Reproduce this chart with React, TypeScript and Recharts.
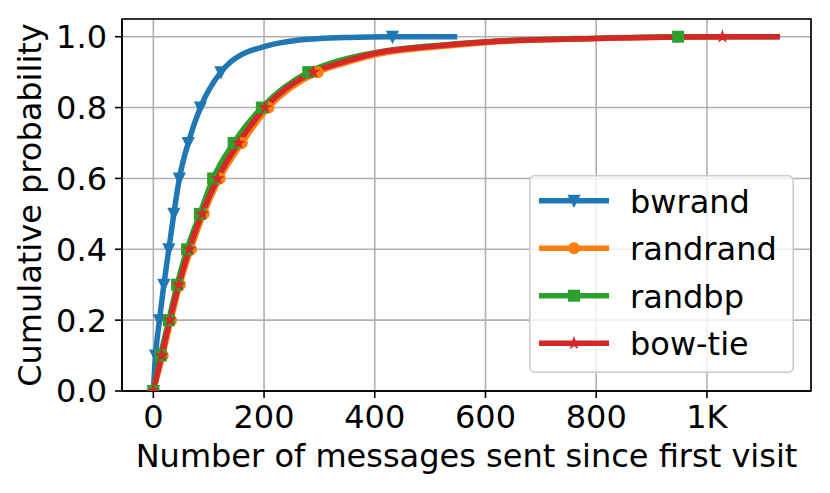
import React from 'react';
import {
  LineChart, Line, XAxis, YAxis, CartesianGrid, Legend, Label, ReferenceArea,
} from 'recharts';

// ---- data ----
const seriesNames = ['bwrand', 'randrand', 'randbp', 'bow-tie'];
const seriesColors = ['#1f77b4', '#ff7f0e', '#2ca02c', '#d62728'];
const seriesMarkers = ['triDown', 'circle', 'square', 'star'];

const bwrandX = [0, 4, 11, 19, 28, 37, 47, 63, 85, 122, 139, 160, 200, 260, 350, 432, 549];
const bwrandY = [0, 0.1, 0.2, 0.3, 0.4, 0.5, 0.6, 0.7, 0.8, 0.9, 0.928, 0.95, 0.972, 0.99, 0.998, 1.0, 1.0];
const bwrandMarks = [0, 1, 2, 3, 4, 5, 6, 7, 8, 9, 15];

const randrandX = [0, 17, 32, 48, 68, 91, 120, 160, 208, 297, 345, 415, 505, 605, 805, 1000, 1050];
const randrandY = [0, 0.1, 0.2, 0.3, 0.4, 0.5, 0.6, 0.7, 0.8, 0.9, 0.925, 0.953, 0.97, 0.984, 0.995, 1.0, 1.0];
const randrandMarks = [0, 1, 2, 3, 4, 5, 6, 7, 8, 9];

const randbpX = [0, 13, 28, 43, 61, 84, 108, 145, 196, 280, 330, 410, 500, 600, 800, 948, 1131];
const randbpY = [0, 0.1, 0.2, 0.3, 0.4, 0.5, 0.6, 0.7, 0.8, 0.9, 0.93, 0.958, 0.974, 0.986, 0.996, 1.0, 1.0];
const randbpMarks = [0, 1, 2, 3, 4, 5, 6, 7, 8, 9, 15];

const bowtieX = [0, 15, 30, 46, 65, 88, 116, 154, 202, 289, 340, 410, 500, 600, 800, 1028, 1132];
const bowtieY = [0, 0.1, 0.2, 0.3, 0.4, 0.5, 0.6, 0.7, 0.8, 0.9, 0.927, 0.956, 0.972, 0.985, 0.995, 1.0, 1.0];
const bowtieMarks = [0, 1, 2, 3, 4, 5, 6, 7, 8, 9, 15];

const xTicks = [0, 200, 400, 600, 800, 1000];
const xTickLabels = ['0', '200', '400', '600', '800', '1K'];
const yTicks = [0, 0.2, 0.4, 0.6, 0.8, 1.0];
const xDomain = [-56.6, 1188];
const yDomain = [0, 1.05];

const xLabel = 'Number of messages sent since first visit';
const yLabel = 'Cumulative probability';

const toData = (xs: number[], ys: number[]) => xs.map((x, i) => ({ x, y: ys[i] }));
const seriesData = [
  toData(bwrandX, bwrandY),
  toData(randrandX, randrandY),
  toData(randbpX, randbpY),
  toData(bowtieX, bowtieY),
];
const seriesMarks = [bwrandMarks, randrandMarks, randbpMarks, bowtieMarks];

const FONT = '"DejaVu Sans", sans-serif';
const FS = 32;

function Marker({ kind, cx, cy, color }: { kind: string; cx: number; cy: number; color: string }) {
  const s = 5;
  if (kind === 'triDown') {
    return (
      <polygon
        points={`${cx - s},${cy - s} ${cx + s},${cy - s} ${cx},${cy + s}`}
        fill={color} stroke={color} strokeWidth={2} strokeLinejoin="miter"
      />
    );
  }
  if (kind === 'circle') {
    return <circle cx={cx} cy={cy} r={s} fill={color} stroke={color} strokeWidth={2} />;
  }
  if (kind === 'square') {
    return <rect x={cx - s} y={cy - s} width={2 * s} height={2 * s} fill={color} stroke={color} strokeWidth={2} />;
  }
  // star
  const pts: string[] = [];
  const ro = 5, ri = 5 * 0.381966;
  for (let k = 0; k < 10; k++) {
    const r = k % 2 === 0 ? ro : ri;
    const a = -Math.PI / 2 + (k * Math.PI) / 5;
    pts.push(`${cx + r * Math.cos(a)},${cy + r * Math.sin(a)}`);
  }
  return <polygon points={pts.join(' ')} fill={color} stroke={color} strokeWidth={1.5} strokeLinejoin="miter" />;
}

const makeDot = (si: number) => (props: any) => {
  const { cx, cy, index } = props;
  const key = `dot-${si}-${index}`;
  if (!seriesMarks[si].includes(index) || cx == null || cy == null) return <g key={key} />;
  return (
    <g key={key}>
      <Marker kind={seriesMarkers[si]} cx={cx} cy={cy} color={seriesColors[si]} />
    </g>
  );
};

function LegendBox() {
  const rowY = [25.7, 73.2, 120.7, 168.2];
  return (
    <svg width={265} height={198} style={{ display: 'block' }}>
      <rect x={0.8} y={0.8} width={263.4} height={196.4} rx={5} ry={5}
        fill="rgba(255,255,255,0.8)" stroke="#cccccc" strokeWidth={1.6} />
      {seriesNames.map((name, i) => (
        <g key={name}>
          <line x1={10} x2={80} y1={rowY[i]} y2={rowY[i]} stroke={seriesColors[i]} strokeWidth={5.5} />
          <Marker kind={seriesMarkers[i]} cx={45} cy={rowY[i]} color={seriesColors[i]} />
          <text x={101} y={rowY[i] + 12} fontFamily={FONT} fontSize={FS} fill="#000">{name}</text>
        </g>
      ))}
    </svg>
  );
}

export default function App() {
  return (
    <div style={{ position: 'absolute', left: 0, top: 0, width: 830, height: 493, background: '#fff' }}>
      <LineChart width={830} height={493} margin={{ top: 19, right: 19, bottom: 0, left: 0 }}>
        <CartesianGrid stroke="#b0b0b0" strokeWidth={1.6} />
        <ReferenceArea x1={xDomain[0]} x2={xDomain[1]} y1={yDomain[0]} y2={yDomain[1]}
          fill="none" fillOpacity={0} stroke="#000" strokeWidth={1.6} ifOverflow="visible" />
        <XAxis
          type="number" dataKey="x" domain={xDomain} ticks={xTicks} allowDataOverflow
          height={102} tickSize={7} tickMargin={7}
          tickFormatter={(v: number) => xTickLabels[xTicks.indexOf(v)] ?? String(v)}
          tick={{ fill: '#000', fontSize: FS, fontFamily: FONT }}
          axisLine={{ stroke: '#000', strokeWidth: 1.6 }}
          tickLine={{ stroke: '#000', strokeWidth: 1.6 }}
        >
          <Label
            content={() => (
              <text x={466.5} y={467} textAnchor="middle" fontFamily={FONT} fontSize={FS} fill="#000">{xLabel}</text>
            )}
          />
        </XAxis>
        <YAxis
          type="number" domain={yDomain} ticks={yTicks} allowDataOverflow
          width={122} tickSize={7} tickMargin={8}
          tickFormatter={(v: number) => v.toFixed(1)}
          tick={{ fill: '#000', fontSize: FS, fontFamily: FONT }}
          axisLine={{ stroke: '#000', strokeWidth: 1.6 }}
          tickLine={{ stroke: '#000', strokeWidth: 1.6 }}
        >
          <Label
            content={() => (
              <text x={41} y={205} transform="rotate(-90, 41, 205)" textAnchor="middle"
                fontFamily={FONT} fontSize={FS} fill="#000">{yLabel}</text>
            )}
          />
        </YAxis>
        {seriesNames.map((name, i) => (
          <Line
            key={name}
            name={name}
            data={seriesData[i]}
            dataKey="y"
            type="monotone"
            stroke={seriesColors[i]}
            strokeWidth={5.5}
            dot={makeDot(i)}
            activeDot={false}
            isAnimationActive={false}
          />
        ))}
        <Legend
          layout="vertical" align="center" verticalAlign="middle"
          wrapperStyle={{ position: 'absolute', left: 529, top: 175, width: 265, height: 198 }}
          content={() => <LegendBox />}
        />
      </LineChart>
    </div>
  );
}
